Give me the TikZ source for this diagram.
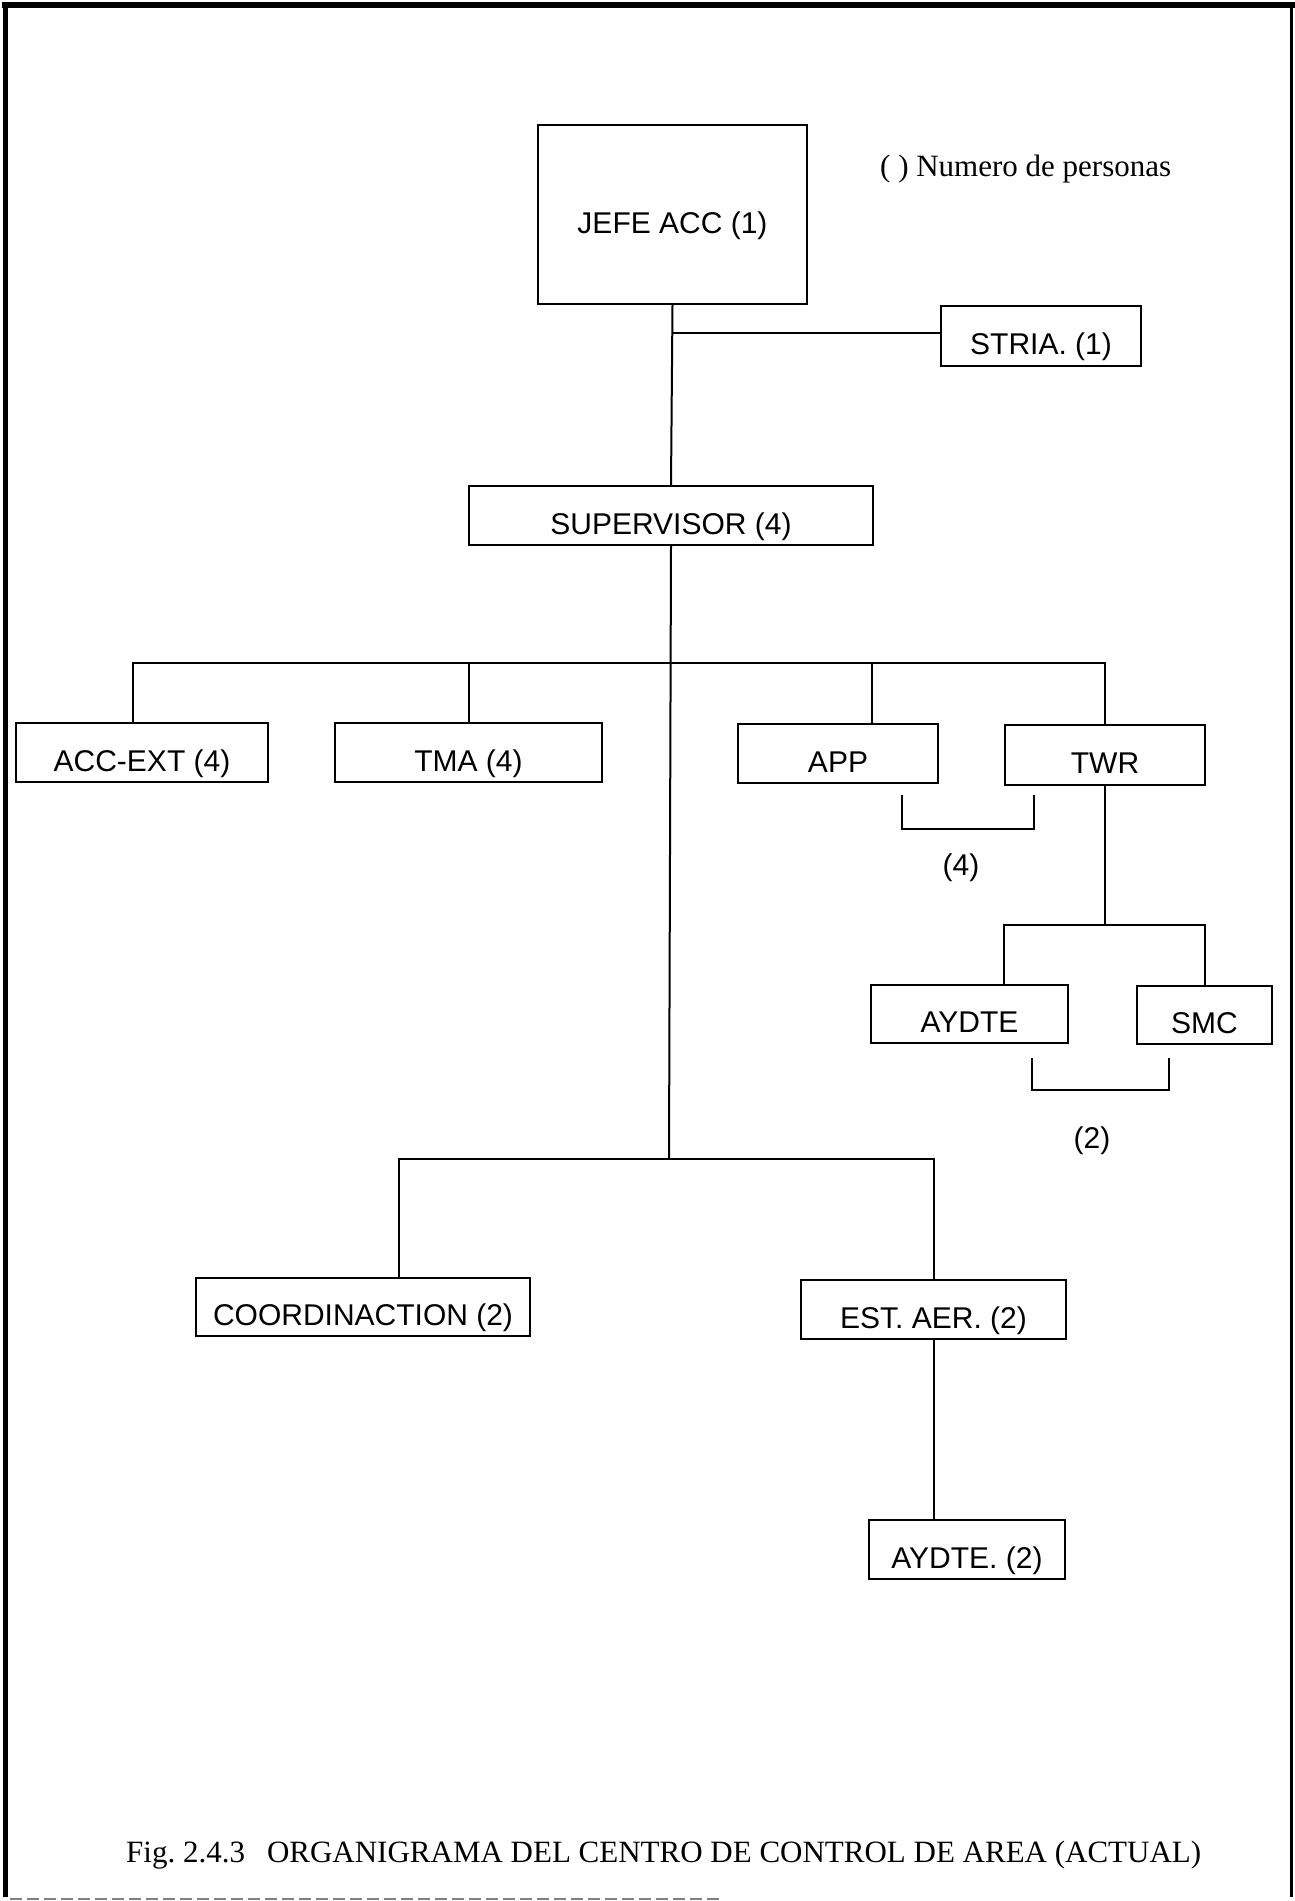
\documentclass[tikz,border=0pt]{standalone}
\usepackage{fontspec}
\setmainfont{Liberation Serif}
\newfontfamily\boxfont{Liberation Sans}
\usetikzlibrary{calc}

\begin{document}
\begin{tikzpicture}[x=1pt,y=-1pt,
  orgbox/.style={draw, line width=2.4pt, inner sep=0pt,
    font=\boxfont\fontsize{30}{36}\selectfont,
    text height=37pt, text depth=0pt},
  link/.style={line width=2pt},
  count/.style={inner sep=0pt, font=\boxfont\fontsize{30}{36}\selectfont},
  note/.style={inner sep=0pt, font=\fontsize{31}{37}\selectfont}]

\useasboundingbox (0,0) rectangle (1295,1901);

% page frame
\draw[line width=6pt] (2,5) -- (1295,5);
\draw[line width=5pt] (5,2) -- (5,1897);
\draw[line width=3pt] (1291,3) -- (1291,1897);
\draw[gray, line width=1.5pt, dash pattern=on 12pt off 5pt] (10,1899) -- (720,1899);

% organisation boxes
\node[orgbox, minimum width=269pt, minimum height=179pt] (jefe) at (672.5,214.5) {JEFE ACC (1)};
\node[orgbox, minimum width=200pt, minimum height=60pt] (stria) at (1041,336) {STRIA. (1)};
\node[orgbox, minimum width=404pt, minimum height=59pt] (sup) at (671,515.5) {SUPERVISOR (4)};
\node[orgbox, minimum width=252pt, minimum height=59pt] (accext) at (142,752.5) {ACC-EXT (4)};
\node[orgbox, minimum width=267pt, minimum height=59pt] (tma) at (468.5,752.5) {TMA (4)};
\node[orgbox, minimum width=200pt, minimum height=59pt] (app) at (838,753.5) {APP};
\node[orgbox, minimum width=200pt, minimum height=60pt] (twr) at (1105,755) {TWR};
\node[orgbox, minimum width=197pt, minimum height=58pt] (aydte) at (969.5,1014) {AYDTE};
\node[orgbox, minimum width=135pt, minimum height=58pt] (smc) at (1204.5,1015) {SMC};
\node[orgbox, minimum width=334pt, minimum height=58pt] (coord) at (363,1307) {COORDINACTION (2)};
\node[orgbox, minimum width=265pt, minimum height=59pt] (estaer) at (933.5,1309.5) {EST. AER. (2)};
\node[orgbox, minimum width=196pt, minimum height=59pt] (aydtedos) at (967,1549.5) {AYDTE. (2)};

% bus points and drop points
\coordinate (b1) at (671,663);
\coordinate (b2) at (1105,925);
\coordinate (j2) at (669,1159);
\coordinate (accdrop) at ([xshift=-9pt]accext.north);
\coordinate (appdrop) at ([xshift=34pt]app.north);
\coordinate (aydrop) at ([xshift=34.5pt]aydte.north);
\coordinate (coorddrop) at ([xshift=36pt]coord.north);

% trunk and secretary
\draw[link] (jefe.south) -- (sup.north);
\draw[link] ([yshift=3pt]stria.west) -- ([yshift=3pt]stria.west -| jefe.south);
\draw[link] (sup.south) -- (j2);

% second level
\draw[link] (accdrop) |- (b1) -| (twr.north);
\draw[link] (tma.north) -- (tma.north |- b1);
\draw[link] (appdrop) -- (appdrop |- b1);

% APP / TWR grouping bracket
\coordinate (brA) at (902,795);
\coordinate (brB) at (1034,795);
\draw[link] (brA) -- ++(0,34) -| (brB);
\node[count] (cnt4) at (961,868) {(4)};

% tower staff
\draw[link] (twr.south) -- (b2);
\draw[link] (aydrop) |- (b2) -| (smc.north);

% AYDTE / SMC grouping bracket
\coordinate (brC) at (1032,1058);
\coordinate (brD) at (1169,1058);
\draw[link] (brC) -- ++(0,32) -| (brD);
\node[count] (cnt2) at (1092,1141) {(2)};

% lower level
\draw[link] (coorddrop) |- (j2) -| (estaer.north);
\draw[link] (estaer.south) -- (estaer.south |- aydtedos.north);

% legend and caption
\node[note, anchor=base west] (legend) at (880,176) {( ) Numero de personas};
\node[note, anchor=base west] (caption) at (126,1862)
  {Fig.\ 2.4.3\hspace{22pt}ORGANIGRAMA DEL CENTRO DE CONTROL DE AREA (ACTUAL)};

\end{tikzpicture}
\end{document}
